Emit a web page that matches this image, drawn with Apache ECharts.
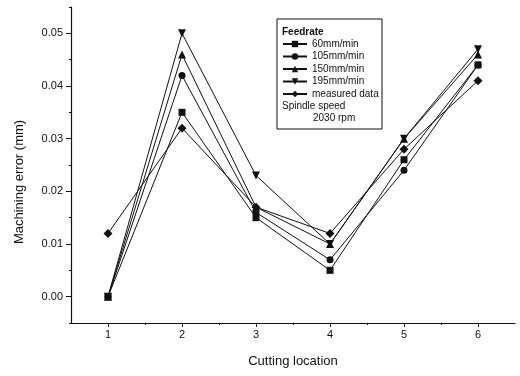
<!DOCTYPE html>
<html>
<head>
<meta charset="utf-8">
<script src="https://cdn.jsdelivr.net/npm/echarts@6/dist/echarts.min.js"></script>
<style>
  html, body { margin: 0; padding: 0; background: #fff; }
  #chart { width: 520px; height: 376px; }
</style>
</head>
<body>
<div id="chart"></div>
<script>
// cutting locations
var locations = [1, 2, 3, 4, 5, 6]
// machining error (mm) for each feedrate
var feed60 = [0, 0.035, 0.015, 0.005, 0.026, 0.044]
var feed105 = [0, 0.042, 0.016, 0.007, 0.024, 0.044]
var feed150 = [0, 0.046, 0.017, 0.010, 0.030, 0.046]
var feed195 = [0, 0.050, 0.023, 0.010, 0.030, 0.047]
var measured = [0.012, 0.032, 0.017, 0.012, 0.028, 0.041]
// tick labels
var yTicks = [0, 0.01, 0.02, 0.03, 0.04, 0.05]
var yMinorTicks = [-0.005, 0.005, 0.015, 0.025, 0.035, 0.045, 0.055]
var xMinorTicks = [1.5, 2.5, 3.5, 4.5, 5.5]

var font = 'Liberation Sans, Arial, sans-serif'
var ink = '#111'

var seriesDefs = [
  { name: '60mm/min', data: feed60, symbol: 'rect', size: 7, rotate: 0 },
  { name: '105mm/min', data: feed105, symbol: 'circle', size: 7, rotate: 0 },
  { name: '150mm/min', data: feed150, symbol: 'triangle', size: 8, rotate: 0 },
  { name: '195mm/min', data: feed195, symbol: 'triangle', size: 8, rotate: 180 },
  { name: 'measured data', data: measured, symbol: 'diamond', size: 9, rotate: 0 }
]

var series = seriesDefs.map(function (s) {
  return {
    name: s.name,
    type: 'line',
    data: s.data.map(function (v, i) { return [locations[i], v] }),
    symbol: s.symbol,
    symbolSize: s.size,
    symbolRotate: s.rotate,
    showAllSymbol: true,
    itemStyle: { color: ink },
    lineStyle: { color: ink, width: 1 },
    animation: false
  }
})

var myChart = echarts.init(document.getElementById('chart'))
myChart.setOption({
  backgroundColor: '#fff',
  animation: false,
  grid: { left: 71, right: 5, top: 7, bottom: 53 },
  xAxis: [{
    type: 'value',
    min: 0.5,
    max: 6.5,
    name: 'Cutting location',
    nameLocation: 'middle',
    nameGap: 32,
    nameTextStyle: { color: ink, fontSize: 13, fontFamily: font },
    axisLine: { onZero: false, lineStyle: { color: ink, width: 1.2 } },
    axisTick: { customValues: locations, length: 4, lineStyle: { color: ink } },
    axisLabel: { customValues: locations, color: ink, fontSize: 11, fontFamily: font, margin: 6 },
    splitLine: { show: false }
  }, {
    // minor ticks only
    type: 'value',
    position: 'bottom',
    min: 0.5,
    max: 6.5,
    axisLine: { show: false, onZero: false },
    axisTick: { show: true, customValues: xMinorTicks, length: 2, lineStyle: { color: ink } },
    axisLabel: { show: false },
    splitLine: { show: false }
  }],
  yAxis: [{
    type: 'value',
    min: -0.005,
    max: 0.055,
    axisLine: { show: true, onZero: false, lineStyle: { color: ink, width: 1.2 } },
    axisTick: { customValues: yTicks, length: 5, lineStyle: { color: ink } },
    axisLabel: {
      customValues: yTicks,
      color: ink,
      fontSize: 11,
      fontFamily: font,
      margin: 8,
      formatter: function (v) { return v.toFixed(2) }
    },
    splitLine: { show: false }
  }, {
    // minor ticks only
    type: 'value',
    position: 'left',
    min: -0.005,
    max: 0.055,
    axisLine: { show: false, onZero: false },
    axisTick: { show: true, customValues: yMinorTicks, length: 2, lineStyle: { color: ink } },
    axisLabel: { show: false },
    splitLine: { show: false }
  }],
  legend: {
    orient: 'vertical',
    left: 282,
    top: 39,
    itemWidth: 24,
    itemHeight: 8,
    itemGap: 2.5,
    padding: 0,
    data: seriesDefs.map(function (s) { return s.name }),
    textStyle: { color: ink, fontSize: 10, fontFamily: font, lineHeight: 10 }
  },
  graphic: [
    {
      type: 'rect',
      shape: { x: 277, y: 19, width: 105, height: 110 },
      style: { fill: 'none', stroke: ink, lineWidth: 1 }
    },
    {
      type: 'text', x: 282, y: 32,
      style: { text: 'Feedrate', fill: ink, font: 'bold 10px ' + font, verticalAlign: 'middle' }
    },
    {
      type: 'text', x: 282, y: 106,
      style: { text: 'Spindle speed', fill: ink, font: '10px ' + font, verticalAlign: 'middle' }
    },
    {
      type: 'text', x: 313, y: 118,
      style: { text: '2030 rpm', fill: ink, font: '10px ' + font, verticalAlign: 'middle' }
    },
    {
      type: 'text', x: 19, y: 182, rotation: Math.PI / 2,
      style: { text: 'Machining error (mm)', fill: ink, font: '13px ' + font, align: 'center', verticalAlign: 'middle' }
    }
  ],
  series: series
})
</script>
</body>
</html>
